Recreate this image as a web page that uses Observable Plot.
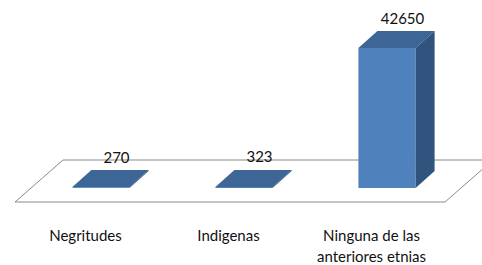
<!DOCTYPE html>
<html><head><meta charset="utf-8">
<script src="https://cdn.jsdelivr.net/npm/d3@7"></script>
<script src="https://cdn.jsdelivr.net/npm/@observablehq/plot@0.6"></script>
<style>body{margin:0;background:#fff} svg{display:block}</style>
</head><body><div id="chart"></div>
<script>
const categories = ["Negritudes", "Indigenas", "Ninguna de las\nanteriores etnias"];
const values = [270, 323, 42650];
const valueLabels = ["270", "323", "42650"];

const data = categories.map((c, i) => ({i, c, v: values[i], label: valueLabels[i]}));
const HALF = 0.2;          // half bar width in x units
const DX = 19, DY = -17;   // 3D depth offset (pixels)

const floor = (index, {x, y}) => {
  const g = d3.create("svg:g");
  const y0 = y(0);
  const fl = x(0) - 86, fr = x(2) + 58, fy = y0 + 14;
  g.append("path")
    .attr("d", `M${fl},${fy}L${fr},${fy}L${fr + 48},${fy - 42}L${fl + 48},${fy - 42}Z`)
    .attr("fill", "none").attr("stroke", "#8a8a8a").attr("stroke-width", 1);
  return g.node();
};

const faces = (index, {x, y}) => {
  const g = d3.create("svg:g");
  for (const d of data) {
    const xl = x(d.i - HALF), xr = x(d.i + HALF), yt = y(d.v), yb = y(0);
    g.append("path")
      .attr("d", `M${xl},${yt}L${xr},${yt}L${xr + DX},${yt + DY}L${xl + DX},${yt + DY}Z`)
      .attr("fill", "#3d6596");
    g.append("path")
      .attr("d", `M${xr},${yt}L${xr + DX},${yt + DY}L${xr + DX},${yb + DY}L${xr},${yb}Z`)
      .attr("fill", "#31547f");
  }
  return g.node();
};

const chart = Plot.plot({
  width: 482,
  height: 265,
  marginLeft: 101,
  marginRight: 95,
  marginTop: 48,
  marginBottom: 77,
  x: {domain: [0, 2], axis: null},
  y: {domain: [0, 42650], axis: null},
  style: {fontFamily: "Lato", fontSize: "15px", background: "#fff"},
  marks: [
    floor,
    Plot.rect(data, {x1: d => d.i - HALF, x2: d => d.i + HALF, y1: 0, y2: "v", fill: "#4f81bd"}),
    faces,
    Plot.text(data, {x: "i", y: "v", text: "label", dx: 15, dy: -25, lineAnchor: "bottom", fill: "#111", fontSize: 15}),
    Plot.text(data, {x: "i", y: 0, text: "c", dx: -16, dy: 38, lineAnchor: "top", lineHeight: 1.38, fill: "#111", fontSize: 15})
  ]
});
document.getElementById("chart").appendChild(chart);
</script>
</body></html>
